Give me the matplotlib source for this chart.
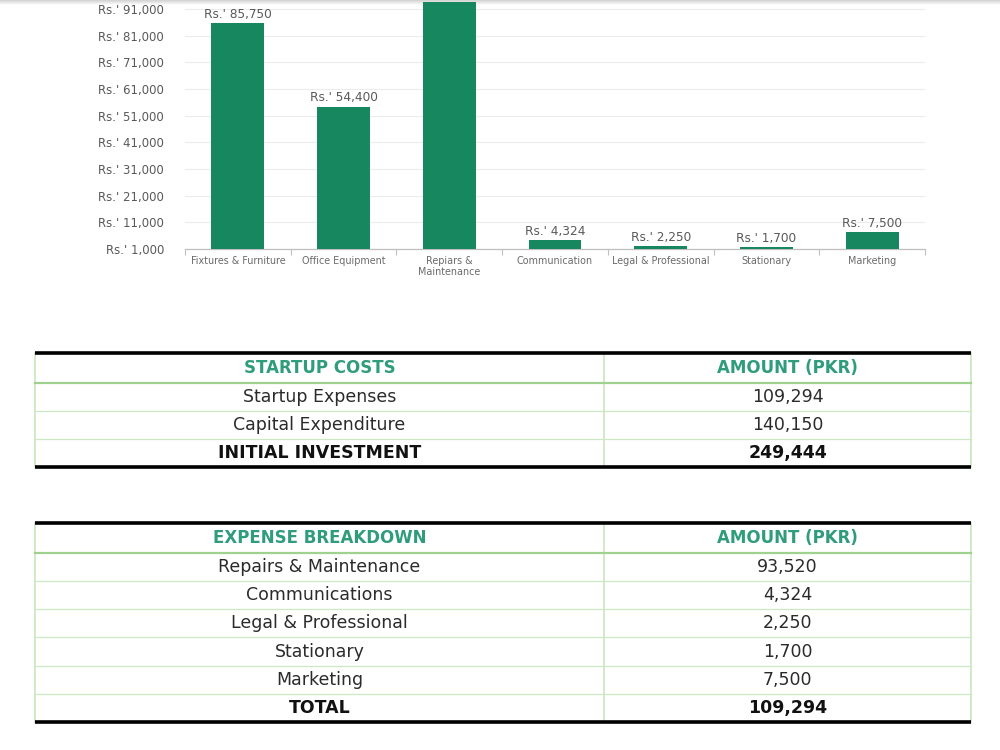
import numpy as np
import matplotlib
matplotlib.use("Agg")
import matplotlib.pyplot as plt

# bar chart data (PKR)
categories = ["Fixtures & Furniture", "Office Equipment", "Repiars &\nMaintenance",
              "Communication", "Legal & Professional", "Stationary", "Marketing"]
amounts = [85750, 54400, 93520, 4324, 2250, 1700, 7500]
y_ticks = [1000, 11000, 21000, 31000, 41000, 51000, 61000, 71000, 81000, 91000]
y_top = 101000

# tables
startup_items = ["Startup Expenses", "Capital Expenditure", "INITIAL INVESTMENT"]
startup_amounts = ["109,294", "140,150", "249,444"]
expense_items = ["Repairs & Maintenance", "Communications", "Legal & Professional",
                 "Stationary", "Marketing", "TOTAL"]
expense_amounts = ["93,520", "4,324", "2,250", "1,700", "7,500", "109,294"]

W, H = 1000, 750
BAR = "#16875f"
GRAY = "#595959"
HEAD = "#2f9c7b"
LINE_LIGHT = "#cfe8c4"
LINE_HEAD = "#9fd28f"
CHART_FONT = "DejaVu Sans"
TABLE_FONT = "DejaVu Sans"

fig = plt.figure(figsize=(10, 7.5), dpi=100)


def px_box(left, top, right, bottom):
    # pixel box -> figure fraction rect
    return [left / W, 1 - bottom / H, (right - left) / W, (bottom - top) / H]


# faint page-edge shadow along the top (drawn first so it stays behind)
shade = fig.add_axes(px_box(0, 0, W, 5))
shade.imshow(np.linspace(0.82, 1.0, 20).reshape(-1, 1), cmap="gray", vmin=0, vmax=1,
             aspect="auto", extent=[0, 1, 0, 1])
shade.axis("off")

# ---- bar chart (top of the chart runs past the page edge) ----
ax = fig.add_axes(px_box(185, -17.7, 925, 249))
x = np.arange(len(categories))
bars = ax.bar(x, np.array(amounts) - y_ticks[0], bottom=y_ticks[0], width=0.5,
              color=BAR, zorder=3)
ax.set_xlim(-0.5, len(categories) - 0.5)
ax.set_ylim(y_ticks[0], y_top)
ax.set_yticks(y_ticks)
ax.set_yticklabels(["Rs.' {:,}".format(v) for v in y_ticks], fontsize=8.5,
                   color=GRAY, family=CHART_FONT)
ax.tick_params(axis="y", length=0, pad=15)
ax.set_xticks(x)
ax.set_xticklabels(categories, fontsize=6.9, color="#6a6a6a", family=CHART_FONT,
                   linespacing=1.1, va="top")
ax.tick_params(axis="x", which="major", length=0, pad=5)
ax.set_xticks(np.arange(len(categories) + 1) - 0.5, minor=True)
ax.tick_params(axis="x", which="minor", length=4, color="#bfbfbf", width=0.8)
ax.yaxis.grid(True, color="#ececec", lw=0.8, zorder=0)
for s in ["top", "right", "left"]:
    ax.spines[s].set_visible(False)
ax.spines["bottom"].set_color("#bfbfbf")
ax.spines["bottom"].set_linewidth(0.9)
ax.set_facecolor("none")
for rect, v in zip(bars, amounts):
    ax.annotate("Rs.' {:,}".format(v), (rect.get_x() + rect.get_width() / 2, v),
                xytext=(0, 1.5), textcoords="offset points", ha="center", va="bottom",
                fontsize=8.7, color=GRAY, family=CHART_FONT)

# ---- tables ----
tab = fig.add_axes([0, 0, 1, 1])
tab.set_xlim(0, W)
tab.set_ylim(H, 0)
tab.axis("off")

T_LEFT, T_MID, T_RIGHT = 35, 604, 971
HEAD_H, ROW_H = 29.5, 28.3


def draw_table(top, title, items, values):
    n = len(items)
    head_bot = top + HEAD_H
    bottom = head_bot + n * ROW_H
    c1 = (T_LEFT + T_MID) / 2
    c2 = (T_MID + T_RIGHT) / 2
    # verticals
    for xv in (T_LEFT, T_MID, T_RIGHT):
        tab.plot([xv, xv], [top, bottom], color=LINE_LIGHT, lw=1.3, zorder=1)
    # row separators
    for i in range(1, n):
        yv = head_bot + i * ROW_H
        tab.plot([T_LEFT, T_RIGHT], [yv, yv], color=LINE_LIGHT, lw=0.9, zorder=1)
    tab.plot([T_LEFT, T_RIGHT], [head_bot, head_bot], color=LINE_HEAD, lw=1.6, zorder=2)
    tab.plot([T_LEFT, T_RIGHT], [top, top], color="black", lw=2.6, zorder=3,
             solid_capstyle="butt")
    tab.plot([T_LEFT, T_RIGHT], [bottom, bottom], color="black", lw=2.6, zorder=3,
             solid_capstyle="butt")
    # header
    yh = top + HEAD_H / 2
    tab.text(c1, yh, title, ha="center", va="center", fontsize=12,
             fontweight="bold", color=HEAD, family=TABLE_FONT)
    tab.text(c2, yh, "AMOUNT (PKR)", ha="center", va="center", fontsize=12,
             fontweight="bold", color=HEAD, family=TABLE_FONT)
    for i, (item, val) in enumerate(zip(items, values)):
        yc = head_bot + (i + 0.5) * ROW_H
        last = i == n - 1
        kw = dict(ha="center", va="center", fontsize=12.5, family=TABLE_FONT,
                  color="#111111" if last else "#2b2b2b",
                  fontweight="bold" if last else "normal")
        tab.text(c1, yc, item, **kw)
        tab.text(c2, yc, val, **kw)


draw_table(353, "STARTUP COSTS", startup_items, startup_amounts)
draw_table(523, "EXPENSE BREAKDOWN", expense_items, expense_amounts)

fig.savefig("out.png", dpi=100)
